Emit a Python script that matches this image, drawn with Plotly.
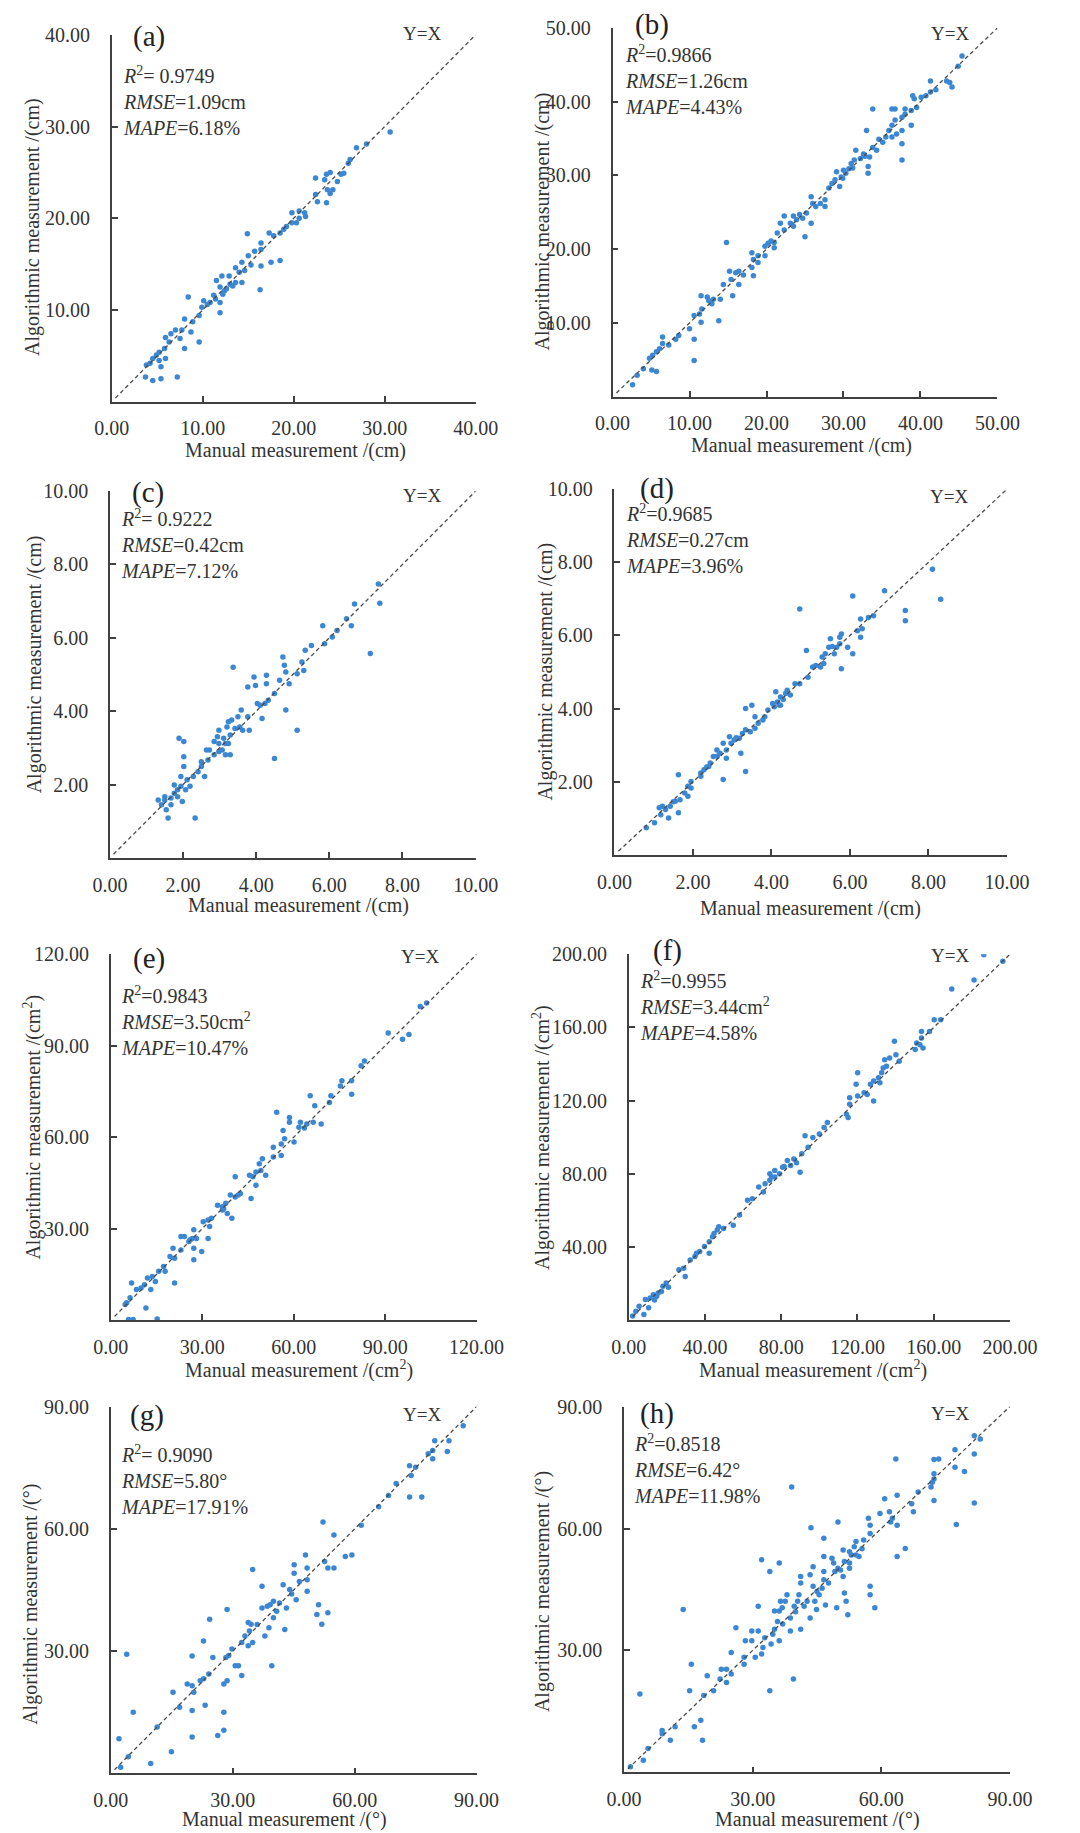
import plotly.graph_objects as go

# ---- panel data (manual, algorithmic) ----
a_manual = [30.6, 26.9, 28.0, 26.2, 22.4, 23.4, 23.6, 24.0, 23.7, 24.0, 24.3, 23.6, 22.6, 22.4, 24.8, 25.5, 26.0, 25.2,
            19.8, 19.8, 20.6, 20.6, 21.2, 20.3, 21.3, 18.5, 17.3, 17.5, 18.5, 16.4, 16.4, 16.3, 16.4, 14.9, 14.3, 15.0,
            15.7, 13.6, 14.0, 14.3, 12.9, 12.1, 11.5, 11.9, 12.6, 13.3, 13.6, 11.4, 11.9, 11.9, 11.2, 12.2, 10.8, 10.5,
            10.1, 9.9, 8.4, 9.6, 8.9, 8.0, 8.7, 7.7, 7.0, 6.5, 5.9, 6.3, 7.5, 8.0, 9.6, 5.8, 5.2, 4.9, 4.5, 3.8, 4.2,
            5.4, 5.2, 3.7, 4.5, 5.4, 7.2, 5.9, 17.8, 18.9, 19.2, 14.6, 15.3, 13.0, 12.4]
a_algo = [29.4, 27.7, 28.1, 26.4, 24.4, 24.2, 24.8, 25.0, 23.1, 22.7, 23.1, 21.7, 21.8, 22.6, 24.0, 24.9, 26.0, 24.8,
          19.5, 20.6, 20.0, 20.8, 20.6, 19.5, 20.2, 18.4, 18.4, 15.2, 15.4, 16.6, 17.3, 12.2, 14.8, 18.3, 15.2, 15.9,
          16.4, 14.6, 14.1, 13.0, 13.7, 13.7, 13.2, 12.5, 12.3, 12.6, 13.0, 11.2, 10.8, 9.7, 11.6, 11.7, 10.8, 10.6,
          11.0, 10.3, 11.4, 9.4, 8.7, 9.0, 7.6, 7.8, 7.8, 7.4, 7.0, 6.5, 6.9, 5.8, 6.5, 5.8, 5.4, 5.1, 4.7, 4.0, 4.2,
          3.8, 4.5, 2.7, 2.3, 2.5, 2.7, 4.7, 18.1, 18.8, 19.1, 14.3, 14.9, 12.8, 12.1]

b_manual = [45.4, 44.9, 44.1, 43.8, 43.4, 41.3, 41.3, 40.7, 40.1, 39.2, 39.0, 38.8, 38.8, 38.0, 38.0, 37.6, 37.6, 37.6,
            37.6, 36.7, 36.3, 36.3, 36.7, 36.9, 35.9, 36.3, 35.5, 35.1, 33.8, 33.0, 33.8, 34.3, 33.4, 33.2, 33.2, 32.6,
            32.2, 31.6, 31.4, 31.0, 30.7, 30.3, 30.0, 29.7, 29.5, 29.1, 28.9, 28.5, 28.1, 27.6, 27.6, 27.0, 26.4, 25.8,
            25.8, 25.2, 25.0, 24.3, 23.9, 23.5, 23.5, 22.3, 22.3, 21.8, 21.4, 21.0, 21.0, 20.6, 19.8, 19.8, 18.9, 18.9,
            18.3, 18.3, 18.1, 18.1, 16.4, 16.0, 16.4, 15.6, 15.2, 15.4, 14.8, 14.4, 14.0, 13.8, 13.1, 12.5, 12.3, 11.5,
            11.6, 11.3, 10.6, 11.5, 10.0, 10.6, 10.6, 8.6, 8.2, 7.3, 6.5, 6.5, 6.1, 5.7, 5.2, 4.8, 5.1, 5.7, 4.0, 3.2,
            2.6, 26.0, 23.1, 31.2, 32.8, 34.6, 29.9, 24.7, 20.2, 17.0, 12.9, 39.5, 42.0]
b_algo = [46.2, 44.8, 42.0, 42.6, 42.8, 42.8, 41.3, 40.8, 40.6, 40.4, 40.8, 38.8, 36.8, 39.0, 38.3, 37.9, 36.1, 34.3,
          32.1, 39.0, 39.0, 36.8, 37.5, 35.6, 36.1, 35.2, 35.2, 34.5, 39.0, 36.1, 33.8, 33.4, 32.5, 31.2, 30.3, 32.9,
          32.3, 33.4, 32.1, 31.6, 30.9, 30.3, 30.7, 29.8, 28.5, 30.5, 29.4, 28.9, 28.3, 25.8, 26.7, 26.2, 25.8, 27.1,
          23.5, 24.9, 21.7, 24.7, 24.0, 23.1, 24.5, 24.5, 22.6, 23.5, 22.2, 20.9, 20.2, 21.1, 20.4, 19.1, 19.1, 18.2,
          18.6, 16.4, 19.5, 17.5, 17.0, 16.8, 15.2, 13.7, 17.0, 15.9, 20.9, 15.2, 13.2, 10.3, 13.2, 13.0, 13.5, 13.7,
          11.9, 11.2, 11.0, 10.1, 9.2, 7.8, 4.9, 8.3, 7.8, 7.0, 8.1, 7.2, 6.5, 6.1, 5.6, 5.2, 3.6, 3.4, 3.8, 2.9,
          1.6, 26.2, 23.5, 31.0, 32.6, 34.9, 29.6, 24.2, 20.8, 16.5, 12.6, 39.2, 41.6]

c_manual = [7.34, 7.38, 6.69, 7.12, 6.60, 6.47, 6.21, 6.08, 5.82, 5.87, 5.51, 5.34, 5.25, 5.30, 5.12, 5.12, 4.73, 4.77,
            4.81, 4.64, 4.90, 4.81, 4.50, 4.28, 4.28, 4.24, 4.33, 4.11, 3.94, 3.98, 3.77, 4.03, 4.16, 3.59, 3.77, 3.81,
            4.50, 3.37, 3.50, 3.33, 3.24, 3.42, 3.55, 3.29, 3.11, 2.98, 2.94, 3.20, 2.85, 2.98, 3.16, 3.24, 3.07, 3.16,
            3.29, 2.72, 2.64, 2.68, 2.50, 2.50, 2.41, 2.28, 2.59, 2.33, 2.02, 1.89, 2.02, 2.02, 1.94, 2.11, 2.07, 1.94,
            1.85, 1.76, 1.76, 1.98, 1.67, 1.67, 1.50, 1.41, 1.32, 1.50, 1.59, 1.54, 1.85, 2.19, 2.85, 2.98, 3.63]
c_algo = [7.47, 6.94, 6.92, 5.57, 6.33, 6.52, 6.20, 6.02, 6.33, 5.84, 5.79, 5.66, 5.34, 5.11, 5.02, 3.48, 5.48, 5.25,
          5.07, 4.84, 4.75, 4.03, 4.48, 4.98, 4.75, 4.21, 4.30, 4.16, 4.93, 4.70, 4.66, 4.21, 3.80, 4.03, 3.85, 3.48,
          2.71, 5.20, 3.85, 3.76, 3.71, 3.53, 3.57, 3.35, 3.26, 3.48, 3.30, 3.57, 3.17, 3.12, 3.12, 3.12, 2.94, 2.81,
          2.81, 2.94, 2.94, 2.67, 2.62, 2.49, 2.35, 2.22, 2.22, 1.09, 2.49, 3.26, 3.17, 2.76, 2.22, 2.13, 1.86, 1.95,
          1.86, 1.99, 1.76, 1.54, 1.63, 1.45, 1.58, 1.45, 1.58, 1.67, 1.09, 1.31, 1.67, 1.95, 2.81, 2.90, 3.48]

d_manual = [8.10, 8.31, 7.41, 7.41, 6.88, 6.07, 4.72, 6.60, 6.47, 6.27, 6.31, 6.27, 6.19, 6.07, 5.94, 5.78, 5.74, 5.74,
            5.78, 5.66, 5.50, 5.46, 5.37, 5.29, 5.33, 5.25, 5.13, 5.05, 4.89, 4.93, 4.72, 4.60, 4.48, 4.36, 4.23, 4.11,
            4.15, 4.03, 4.23, 4.07, 3.91, 3.78, 3.66, 3.58, 3.50, 3.34, 3.34, 3.58, 3.46, 3.34, 3.26, 3.22, 3.18, 3.05,
            2.97, 2.85, 2.77, 2.85, 2.77, 2.69, 2.61, 2.52, 2.44, 2.40, 2.28, 2.20, 2.20, 1.95, 1.95, 1.87, 1.79, 1.87,
            1.67, 1.63, 1.63, 1.55, 1.42, 1.38, 1.30, 1.22, 1.14, 1.18, 1.02, 0.81, 2.93, 3.83, 4.40, 5.55, 5.60, 3.10,
            2.62, 4.20, 4.30, 1.50, 2.35]
d_algo = [7.81, 6.99, 6.68, 6.40, 7.22, 7.08, 6.72, 6.54, 6.49, 6.45, 6.18, 5.95, 6.13, 5.50, 5.68, 6.04, 5.95, 5.77,
          5.09, 5.68, 5.91, 5.68, 5.50, 5.41, 5.23, 5.14, 5.18, 5.14, 5.59, 4.86, 4.68, 4.68, 4.37, 4.41, 4.32, 4.46,
          4.18, 4.14, 4.09, 4.05, 3.96, 3.69, 3.60, 3.78, 4.09, 4.00, 2.28, 3.46, 3.37, 3.42, 3.32, 2.78, 3.19, 3.14,
          3.05, 2.87, 3.05, 2.64, 2.06, 2.78, 2.87, 2.69, 2.51, 2.42, 2.33, 2.15, 2.24, 2.01, 1.83, 1.88, 1.69, 1.60,
          1.51, 2.19, 1.15, 1.47, 1.33, 1.01, 1.24, 1.33, 1.29, 1.10, 0.88, 0.74, 3.23, 3.78, 4.50, 5.70, 5.50, 3.20,
          2.70, 4.10, 4.25, 1.45, 2.40]

e_manual = [103.6, 101.5, 91.0, 95.7, 97.8, 83.2, 82.1, 79.0, 79.0, 75.8, 75.3, 72.2, 71.7, 65.4, 66.9, 66.4, 69.0, 64.3,
            62.2, 61.7, 60.1, 58.6, 58.6, 54.4, 56.5, 57.0, 55.9, 55.9, 53.3, 53.3, 49.7, 48.7, 49.2, 50.8, 47.6, 46.6,
            45.5, 47.6, 46.0, 40.8, 41.8, 40.8, 39.2, 39.7, 38.2, 37.7, 36.6, 35.0, 36.6, 33.0, 31.9, 30.3, 32.4, 31.9,
            29.8, 27.2, 26.7, 28.1, 25.6, 27.2, 27.2, 24.1, 23.0, 23.0, 20.4, 20.9, 19.4, 20.9, 17.3, 15.7, 13.6, 12.0,
            11.0, 13.1, 11.5, 6.8, 8.4, 6.3, 5.2, 4.7, 5.8, 7.3, 15.2, 9.9, 14.6, 17.8, 42.5, 37.0, 26.0, 63.5]
e_algo = [104.0, 102.9, 94.2, 92.1, 93.7, 85.0, 83.4, 78.5, 74.1, 78.5, 76.8, 73.6, 71.4, 73.6, 70.3, 64.9, 64.3, 64.3,
          64.9, 63.3, 58.4, 66.5, 64.9, 68.2, 62.2, 59.5, 57.8, 54.0, 56.7, 53.5, 52.9, 51.3, 49.1, 47.5, 48.6, 47.0,
          47.5, 44.2, 39.9, 47.0, 41.0, 40.4, 41.0, 33.4, 35.0, 38.3, 37.2, 37.7, 36.1, 33.4, 32.8, 32.3, 30.7, 26.8,
          22.5, 29.6, 26.8, 26.8, 25.8, 23.6, 19.8, 27.4, 27.4, 23.0, 23.6, 20.3, 20.9, 12.2, 17.6, 16.0, 14.3, 13.8,
          11.6, 10.0, 4.0, 12.2, 10.0, 7.3, 5.7, 5.1, 0.2, 0.2, 0.4, 10.5, 12.7, 16.0, 41.5, 36.5, 26.4, 63.0]

f_manual = [186.3, 196.3, 181.2, 169.5, 163.7, 160.3, 157.8, 153.6, 153.6, 152.8, 154.4, 150.3, 141.9, 139.4, 140.2,
            136.9, 134.3, 133.5, 132.7, 131.0, 131.8, 128.5, 126.8, 128.5, 125.1, 123.5, 120.1, 119.3, 120.1, 115.9,
            115.9, 114.2, 115.1, 104.2, 102.5, 100.0, 96.6, 92.5, 94.1, 90.8, 89.9, 86.6, 84.9, 83.2, 80.7, 79.1, 76.6,
            74.0, 74.0, 71.5, 70.6, 68.2, 64.8, 62.3, 58.1, 54.8, 49.7, 46.4, 43.9, 42.2, 42.2, 39.7, 37.2, 34.7, 32.2,
            28.8, 29.6, 26.3, 19.6, 17.9, 15.4, 12.9, 11.2, 10.4, 8.7, 7.9, 5.4, 3.7, 2.0, 47.2, 44.7, 35.5, 17.1, 14.6,
            76.6, 74.9, 135.2, 151.1, 88.0, 81.5, 20.8, 13.5]
f_algo = [199.8, 196.2, 185.9, 181.0, 164.2, 164.2, 157.8, 157.8, 154.2, 150.6, 148.8, 147.9, 141.5, 152.4, 145.1, 143.3,
          142.4, 137.9, 135.2, 132.5, 129.8, 130.7, 128.9, 119.8, 123.4, 124.3, 135.2, 128.9, 122.5, 121.6, 118.0,
          112.6, 110.8, 108.1, 105.3, 101.7, 99.9, 100.8, 94.5, 90.9, 80.9, 88.1, 84.5, 87.2, 83.6, 80.0, 78.2, 80.0,
          76.4, 74.6, 70.0, 72.8, 66.4, 65.5, 57.4, 51.9, 50.1, 49.2, 45.6, 42.9, 36.6, 40.2, 37.5, 34.8, 32.9, 28.4,
          23.9, 27.5, 20.3, 18.5, 14.8, 13.9, 12.1, 6.7, 11.2, 3.1, 7.6, 4.9, 2.2, 51.0, 47.4, 36.6, 15.7, 13.0, 81.8,
          78.2, 138.8, 151.5, 86.0, 84.0, 18.0, 11.0]

g_manual = [86.7, 83.2, 82.8, 79.7, 79.2, 79.2, 78.1, 75.0, 73.5, 73.9, 73.5, 76.5, 70.2, 68.3, 65.9, 61.6, 52.2, 54.9,
            52.6, 57.7, 59.3, 54.9, 53.4, 47.9, 48.3, 45.1, 45.1, 48.3, 46.4, 48.3, 44.0, 45.6, 42.4, 43.2, 42.8, 51.1,
            50.7, 53.4, 51.9, 40.0, 39.2, 38.5, 37.2, 40.8, 40.0, 38.9, 39.6, 37.2, 34.9, 37.9, 34.5, 33.8, 34.1, 34.9,
            33.8, 33.0, 32.2, 32.2, 31.4, 30.6, 29.8, 29.0, 28.3, 28.6, 28.6, 27.8, 27.8, 27.8, 26.3, 25.1, 24.3, 24.1,
            22.8, 22.8, 23.2, 22.0, 20.0, 20.0, 18.8, 20.4, 20.0, 20.0, 16.9, 15.3, 14.9, 11.4, 9.8, 5.5, 3.9, 4.3, 2.0,
            2.4, 41.5, 44.5, 36.0]
g_algo = [85.3, 81.6, 79.0, 81.6, 79.2, 77.2, 78.4, 75.1, 75.5, 73.1, 67.8, 67.8, 71.1, 68.2, 65.4, 60.9, 61.7, 58.5,
          52.0, 53.2, 53.6, 50.4, 50.4, 53.6, 50.4, 51.2, 49.1, 47.5, 47.1, 44.7, 45.1, 42.6, 46.3, 40.6, 35.3, 41.4,
          39.0, 39.4, 36.6, 42.2, 41.4, 41.0, 40.6, 39.8, 38.2, 35.7, 26.4, 45.9, 50.0, 33.7, 36.6, 37.0, 34.9, 32.1,
          31.3, 33.7, 32.1, 24.0, 26.4, 26.4, 30.5, 28.9, 28.4, 40.2, 22.7, 21.9, 15.0, 10.6, 9.3, 28.4, 37.8, 24.4,
          32.5, 23.2, 16.7, 22.7, 21.5, 28.8, 21.9, 19.9, 15.4, 8.9, 16.2, 19.9, 5.3, 11.4, 2.4, 15.0, 29.2, 4.1, 8.5,
          1.5, 41.8, 44.0, 36.5]

h_manual = [81.7, 83.1, 81.7, 77.2, 77.2, 79.4, 81.7, 77.5, 63.4, 72.3, 73.4, 72.3, 72.3, 71.9, 71.6, 72.3, 68.6, 67.5,
            67.1, 65.6, 63.7, 63.7, 63.7, 62.6, 61.9, 60.8, 59.7, 62.2, 57.0, 57.4, 57.4, 57.4, 57.4, 58.5, 55.9, 54.1,
            54.1, 54.8, 53.7, 52.6, 52.6, 52.6, 51.4, 51.1, 49.9, 49.9, 49.2, 48.9, 48.5, 51.1, 51.4, 51.8, 52.2, 49.6,
            46.6, 46.6, 46.6, 46.6, 47.7, 46.2, 45.5, 47.0, 44.1, 43.6, 44.1, 43.4, 44.5, 44.9, 43.4, 42.7, 42.0, 41.2,
            41.2, 40.8, 40.5, 39.7, 41.2, 39.1, 39.5, 38.8, 38.0, 37.6, 36.9, 36.2, 36.5, 38.8, 36.2, 35.8, 35.1, 35.1,
            36.2, 34.7, 34.0, 34.3, 32.8, 34.0, 32.1, 32.4, 32.1, 31.3, 31.3, 30.6, 29.8, 29.8, 28.3, 28.0, 28.0, 26.1,
            25.0, 25.0, 23.9, 23.9, 22.7, 22.4, 19.4, 20.9, 18.6, 17.9, 16.4, 18.3, 15.3, 15.7, 13.8, 11.9, 10.8, 8.9,
            8.9, 5.6, 4.5, 3.7, 1.5, 53.0, 50.5, 45.0, 40.0, 37.0, 55.5]
h_algo = [82.8, 82.0, 78.3, 79.4, 75.1, 74.0, 66.3, 61.0, 77.1, 77.0, 77.1, 73.5, 72.2, 71.4, 70.2, 66.9, 69.0, 64.1,
          66.1, 55.1, 68.2, 60.8, 53.1, 62.5, 64.1, 67.3, 63.7, 61.6, 62.5, 60.8, 58.8, 45.8, 43.7, 40.5, 57.2, 56.8,
          53.5, 53.1, 55.5, 54.3, 51.5, 50.2, 51.9, 54.7, 61.6, 50.2, 49.4, 51.5, 52.7, 48.2, 44.1, 42.1, 38.8, 40.5,
          57.6, 53.1, 49.4, 47.4, 46.6, 45.3, 43.7, 41.2, 45.8, 60.2, 50.6, 48.6, 42.1, 40.1, 38.0, 42.1, 40.9, 48.2,
          46.6, 43.7, 42.1, 40.9, 35.2, 70.2, 23.0, 38.0, 43.7, 42.1, 40.5, 39.7, 42.1, 34.8, 51.5, 37.1, 39.7, 35.2,
          32.4, 34.0, 49.4, 31.6, 33.1, 20.1, 52.3, 30.7, 29.1, 40.9, 34.8, 28.3, 32.4, 34.8, 32.4, 28.3, 26.6, 35.6,
          29.5, 24.2, 25.4, 22.1, 25.4, 23.0, 23.8, 20.1, 18.9, 12.8, 11.2, 7.9, 20.1, 26.6, 40.1, 11.2, 7.9, 10.3,
          9.5, 5.9, 3.0, 19.3, 1.4, 53.5, 49.8, 44.5, 39.5, 36.5, 55.0]

panel_labels = ["(a)", "(b)", "(c)", "(d)", "(e)", "(f)", "(g)", "(h)"]
r2_text = ["= 0.9749", "=0.9866", "= 0.9222", "=0.9685", "=0.9843", "=0.9955", "= 0.9090", "=0.8518"]
rmse_text = ["=1.09cm", "=1.26cm", "=0.42cm", "=0.27cm", "=3.50cm<sup>2</sup>", "=3.44cm<sup>2</sup>",
             "=5.80°", "=6.42°"]
mape_text = ["=6.18%", "=4.43%", "=7.12%", "=3.96%", "=10.47%", "=4.58%", "=17.91%", "=11.98%"]
units = ["cm", "cm", "cm", "cm", "cm<sup>2</sup>", "cm<sup>2</sup>", "°", "°"]
axis_max = [40, 50, 10, 10, 120, 200, 90, 90]
axis_step = [10, 10, 2, 2, 30, 40, 30, 30]

xs = [a_manual, b_manual, c_manual, d_manual, e_manual, f_manual, g_manual, h_manual]
ys = [a_algo, b_algo, c_algo, d_algo, e_algo, f_algo, g_algo, h_algo]

# pixel boxes of each plot area: left, right, top, bottom (1080 x 1833 page)
boxes = [(98, 478, 24, 393), (621, 1023, 17, 388),
         (96, 478, 483, 852), (623, 1033, 481, 849),
         (97, 479, 949, 1317), (638, 1036, 949, 1317),
         (97, 479, 1404, 1773), (633, 1036, 1404, 1772)]
# label centre, stats left/middle-line, Y=X centre, x-title centre, y-title centre
label_pos = [(137, 26), (662, 14), (136, 484), (667, 480), (137, 953), (678, 945), (135, 1413), (667, 1411)]
stats_pos = [(108, 91), (632, 69), (105, 536), (633, 531), (106, 1016), (648, 1001), (106, 1478), (641, 1467)]
yx_pos = [(422, 23), (973, 23), (422, 487), (972, 488), (420, 951), (973, 950), (422, 1412), (973, 1411)]
xt_pos = [(290, 442), (818, 437), (293, 900), (828, 903), (293, 1367), (830, 1367), (278, 1819), (835, 1819)]
yt_pos = [(15, 217), (548, 212), (17, 657), (550, 665), (15, 1123), (546, 1133), (13, 1603), (548, 1590)]

W, H = 1080, 1833
FONT = "Liberation Serif"
TXT = "#333333"
AX = "#404040"


def px(x):
    return x / W


def py(y):
    return 1 - y / H


fig = go.Figure()
layout = dict(width=W, height=H, margin=dict(l=0, r=0, t=0, b=0), showlegend=False,
              plot_bgcolor="white", paper_bgcolor="white", font=dict(family=FONT, color=TXT))
annotations = []

for i in range(8):
    n = "" if i == 0 else str(i + 1)
    mx, st = axis_max[i], axis_step[i]
    l, r, t, b = boxes[i]
    xticks = [k * st for k in range(int(mx / st) + 1)]
    yticks = xticks[1:]
    fig.add_trace(go.Scatter(x=xs[i], y=ys[i], mode="markers", xaxis="x" + n, yaxis="y" + n,
                             marker=dict(color="#3b87d3", size=5.5, line=dict(width=0))))
    fig.add_trace(go.Scatter(x=[0.01 * mx, mx], y=[0.01 * mx, mx], mode="lines", xaxis="x" + n, yaxis="y" + n,
                             line=dict(color="#4a4a4a", width=1.3, dash="4px,3px")))
    common = dict(showline=True, linecolor=AX, linewidth=1.5, ticks="inside", ticklen=6, tickwidth=1.5,
                  tickcolor=AX, showgrid=False, zeroline=False, range=[0, mx],
                  tickfont=dict(family=FONT, size=20, color=TXT))
    layout["xaxis" + n] = dict(common, domain=[px(l), px(r)], anchor="y" + n, tickvals=xticks,
                               ticktext=["%.2f" % v for v in xticks], ticklabelstandoff=8)
    layout["yaxis" + n] = dict(common, domain=[py(b), py(t)], anchor="x" + n, tickvals=yticks,
                               ticktext=["%.2f" % v for v in yticks], ticklabelstandoff=16)

    annotations.append(dict(text=panel_labels[i], x=px(label_pos[i][0]), y=py(label_pos[i][1]),
                            xanchor="center", yanchor="middle", font=dict(size=29, color="#222222")))
    stats = ("<i>R</i><sup>2</sup>" + r2_text[i] + "<br><i>RMSE</i>" + rmse_text[i] +
             "<br><i>MAPE</i>" + mape_text[i])
    annotations.append(dict(text=stats, x=px(stats_pos[i][0]), y=py(stats_pos[i][1]), xanchor="left",
                            yanchor="middle", align="left", font=dict(size=20, color=TXT)))
    annotations.append(dict(text="Y=X", x=px(yx_pos[i][0]), y=py(yx_pos[i][1]), xanchor="center",
                            yanchor="middle", font=dict(size=19, color=TXT)))
    annotations.append(dict(text="Manual measurement /(" + units[i] + ")", x=px(xt_pos[i][0]),
                            y=py(xt_pos[i][1]), xanchor="center", yanchor="middle",
                            font=dict(size=20, color=TXT)))
    annotations.append(dict(text="Algorithmic measurement /(" + units[i] + ")", x=px(yt_pos[i][0]),
                            y=py(yt_pos[i][1]), xanchor="center", yanchor="middle", textangle=-90,
                            font=dict(size=20, color=TXT)))

for a in annotations:
    a.update(xref="paper", yref="paper", showarrow=False)
layout["annotations"] = annotations
fig.update_layout(**layout)

# page body has an 8px default margin; drop it so the figure fills the window exactly
fig.write_html("out.html", config={"displayModeBar": False},
               post_script="document.body.style.margin='0';")
